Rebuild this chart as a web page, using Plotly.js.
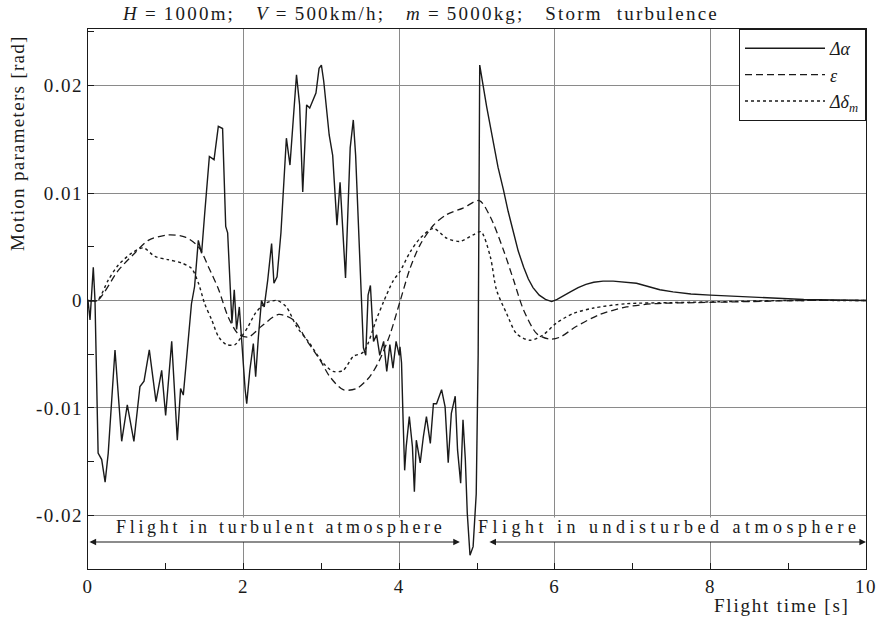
<!DOCTYPE html>
<html>
<head>
<meta charset="utf-8">
<script src="https://cdn.plot.ly/plotly-3.0.1.min.js"></script>
<style>
  html, body { margin: 0; padding: 0; background: #fff; }
  #chart { width: 886px; height: 618px; }
  .xtick text, .ytick text { letter-spacing: 1.5px; }
</style>
</head>
<body>
<div id="chart"></div>
<script>
// Flight time [s] and Δα [rad]
const tAlpha = [0, 0.026, 0.068, 0.09, 0.13, 0.176, 0.22, 0.26, 0.347, 0.433,
  0.505, 0.59, 0.668, 0.72, 0.788, 0.874, 0.947, 0.998, 1.076, 1.148,
  1.19, 1.225, 1.33, 1.355, 1.37, 1.418, 1.46, 1.5, 1.56, 1.62,
  1.675, 1.73, 1.77, 1.795, 1.825, 1.85, 1.88, 1.91, 1.945, 1.97,
  2.02, 2.04, 2.08, 2.125, 2.155, 2.19, 2.23, 2.265, 2.31, 2.36,
  2.39, 2.43, 2.48, 2.55, 2.596, 2.68, 2.72, 2.76, 2.81, 2.85,
  2.9, 2.93, 2.97, 3.0, 3.03, 3.1, 3.145, 3.175, 3.2, 3.24,
  3.28, 3.31, 3.37, 3.41, 3.44, 3.5, 3.54, 3.57, 3.6, 3.63,
  3.67, 3.71, 3.75, 3.8, 3.84, 3.88, 3.92, 3.96, 4.0, 4.01,
  4.03, 4.05, 4.07, 4.09, 4.13, 4.17, 4.195, 4.22, 4.25, 4.27,
  4.31, 4.35, 4.4, 4.44, 4.48, 4.545, 4.59, 4.63, 4.67, 4.72,
  4.75, 4.79, 4.82, 4.85, 4.875, 4.91, 4.95, 4.99, 5.015, 5.035,
  5.125, 5.21, 5.27, 5.34, 5.4, 5.47, 5.53, 5.6, 5.66, 5.72,
  5.8, 5.88, 5.96, 6.03, 6.11, 6.2, 6.3, 6.4, 6.5, 6.62,
  6.75, 6.9, 7.05, 7.2, 7.35, 7.52, 7.75, 8.0, 8.3, 8.55,
  9.2, 10];
const alpha = [0, -0.0018, 0.0031, 0, -0.0142, -0.0148, -0.0169, -0.0142, -0.0046, -0.0131,
  -0.0097, -0.0131, -0.0080, -0.0075, -0.0046, -0.0094, -0.0065, -0.0107, -0.0038, -0.0130,
  -0.0082, -0.0088, -0.0003, 0.0007, 0.0013, 0.0056, 0.0044, 0.0081, 0.0134, 0.0131,
  0.0162, 0.0160, 0.0069, 0.0063, 0.0019, -0.0021, 0.0010, -0.0027, -0.0006, -0.0034,
  -0.0083, -0.0096, -0.0065, -0.0040, -0.0071, -0.0034, 0.0000, -0.0006, 0.0019, 0.0053,
  0.0016, 0.0022, 0.0063, 0.0151, 0.0126, 0.0210, 0.0182, 0.0101, 0.0182, 0.0179,
  0.0188, 0.0193, 0.0216, 0.0219, 0.0204, 0.0154, 0.0135, 0.0104, 0.0070, 0.0110,
  0.0055, 0.0021, 0.0142, 0.0168, 0.0135, 0.0036, -0.0044, -0.0051, 0.0005, 0.0014,
  -0.0038, -0.0032, -0.0051, -0.0038, -0.0066, -0.0041, -0.0063, -0.0038, -0.0051, -0.0043,
  -0.0058, -0.0111, -0.0158, -0.0136, -0.0108, -0.0136, -0.0178, -0.0130, -0.0142, -0.0151,
  -0.0127, -0.0108, -0.0133, -0.0096, -0.0096, -0.0083, -0.0099, -0.0151, -0.0105, -0.0089,
  -0.0139, -0.0170, -0.0111, -0.0148, -0.0198, -0.0237, -0.0229, -0.0180, -0.0050, 0.0219,
  0.0180, 0.0146, 0.0124, 0.0103, 0.0083, 0.0063, 0.0046, 0.0031, 0.0020, 0.0012,
  0.0005, 0.0001, -0.0001, 0.0001, 0.0004, 0.0008, 0.0012, 0.0015, 0.0017, 0.0018,
  0.0018, 0.0017, 0.0016, 0.0013, 0.0010, 0.0008, 0.0006, 0.0005, 0.0004, 0.0003,
  0.0001, 0];

// ε [rad]
const tEps = [0, 0.12, 0.39, 0.6, 0.775, 1.03, 1.25, 1.42, 1.55, 1.68,
  1.8, 1.93, 2.06, 2.23, 2.45, 2.64, 2.81, 2.98, 3.11, 3.28,
  3.45, 3.62, 3.75, 3.88, 4.01, 4.14, 4.27, 4.44, 4.61, 4.82,
  5.03, 5.17, 5.34, 5.47, 5.6, 5.77, 5.94, 6.07, 6.28, 6.58,
  6.92, 7.27, 7.8, 8.5, 9.2, 10];
const eps = [0, 0, 0.0028, 0.0044, 0.0056, 0.0061, 0.0059, 0.0050, 0.0031, 0.0010,
  -0.0015, -0.0031, -0.0034, -0.0024, -0.0013, -0.0018, -0.0037, -0.0055, -0.0071, -0.0083,
  -0.0082, -0.0071, -0.0055, -0.0032, -0.0001, 0.0030, 0.0052, 0.0070, 0.0080, 0.0086,
  0.0093, 0.0078, 0.0047, 0.0019, -0.0009, -0.0031, -0.0036, -0.0034, -0.0024, -0.0013,
  -0.0006, -0.0003, -0.0002, -0.0001, 0, 0];

// Δδm [rad]
const tDm = [0, 0.12, 0.26, 0.39, 0.56, 0.71, 0.86, 1.03, 1.2, 1.33,
  1.42, 1.5, 1.59, 1.68, 1.78, 1.89, 1.97, 2.06, 2.15, 2.27,
  2.43, 2.55, 2.68, 2.85, 3.02, 3.15, 3.28, 3.41, 3.54, 3.71,
  3.8, 3.92, 4.01, 4.14, 4.27, 4.44, 4.61, 4.78, 4.95, 5.05,
  5.17, 5.25, 5.38, 5.51, 5.68, 5.85, 6.02, 6.24, 6.5, 6.92,
  7.5, 8.2, 9, 10];
const dm = [0, 0, 0.0019, 0.0033, 0.0044, 0.0049, 0.0041, 0.0038, 0.0035, 0.0030,
  0.0016, -0.0003, -0.0018, -0.0034, -0.0041, -0.0041, -0.0034, -0.0024, -0.0012, -0.0003,
  0, -0.0006, -0.0024, -0.0040, -0.0058, -0.0066, -0.0065, -0.0052, -0.0048, -0.0017,
  -0.0001, 0.0018, 0.0027, 0.0045, 0.0058, 0.0067, 0.0058, 0.0055, 0.0061, 0.0064,
  0.0041, 0.0010, -0.0012, -0.0031, -0.0037, -0.0032, -0.0021, -0.0012, -0.0007, -0.0003,
  -0.0002, -0.0001, 0, 0];

const seriesNames = ['<i>Δα</i>', '<i>ε</i>', '<i>Δδ<sub>m</sub></i>'];
const xTickVals = [0, 2, 4, 6, 8, 10];
const xTickText = ['0', '2', '4', '6', '8', '10'];
const yTickVals = [-0.02, -0.01, 0, 0.01, 0.02];
const yTickText = ['-0.02', '-0.01', '0', '0.01', '0.02'];
const phaseLabels = ['Flight in turbulent atmosphere', 'Flight in undisturbed atmosphere'];
const phaseCenters = [2.48, 7.47];
const phaseSpacing = [3.7, 4.5];
const phaseArrows = [[0, 4.78], [5.14, 10]];

const serif = '"Liberation Serif", serif';
const ink = '#1a1a1a';
const sp = (s, px) => '<span style="letter-spacing:' + px + 'px">' + s + '</span>';

const traces = [
  { x: tAlpha, y: alpha, name: seriesNames[0], mode: 'lines', type: 'scatter',
    line: { color: ink, width: 1.4 } },
  { x: tEps, y: eps, name: seriesNames[1], mode: 'lines', type: 'scatter',
    line: { color: ink, width: 1.3, dash: '7px,4px', shape: 'spline', smoothing: 0.8 } },
  { x: tDm, y: dm, name: seriesNames[2], mode: 'lines', type: 'scatter',
    line: { color: ink, width: 1.4, dash: 'dot', shape: 'spline', smoothing: 0.8 } }
];

const yBand = -0.0211, yArrow = -0.02247;
const titleText = '<i>H</i>\u2009=\u20091000m;\u00a0\u00a0\u00a0<i>V</i>\u2009=\u2009500km/h;\u00a0\u00a0\u00a0<i>m</i>\u2009=\u20095000kg;\u00a0\u00a0\u00a0Storm\u00a0\u00a0turbulence';
const annotations = [
  { xref: 'paper', yref: 'paper', x: 0.5, y: 1.028, xanchor: 'center', yanchor: 'middle',
    xshift: -57, text: sp(titleText, 2.2),
    showarrow: false, font: { family: serif, size: 19, color: ink } },
  { xref: 'paper', yref: 'paper', x: -0.09, y: 0.789, xanchor: 'center', yanchor: 'middle',
    text: sp('Motion parameters [rad]', 1.3), textangle: -90, showarrow: false,
    font: { family: serif, size: 19, color: ink } },
  { xref: 'paper', yref: 'paper', x: 0.892, y: -0.068, xanchor: 'center', yanchor: 'middle',
    text: sp('Flight time [s]', 1.8), showarrow: false, font: { family: serif, size: 19, color: ink } }
];
phaseLabels.forEach((lab, i) => {
  annotations.push({ x: phaseCenters[i], y: yBand, xref: 'x', yref: 'y', text: sp(lab, phaseSpacing[i]),
    showarrow: false, font: { family: serif, size: 18, color: ink } });
  annotations.push({ x: phaseArrows[i][1], y: yArrow, ax: phaseArrows[i][0], ay: yArrow,
    xref: 'x', yref: 'y', axref: 'x', ayref: 'y', text: '', showarrow: true,
    arrowhead: 2, arrowside: 'end+start', arrowsize: 1.2, arrowwidth: 1.1, arrowcolor: ink });
});

const layout = {
  width: 886, height: 618,
  margin: { l: 88, r: 20, t: 29, b: 49 },
  paper_bgcolor: '#ffffff', plot_bgcolor: '#ffffff',
  showlegend: true,
  legend: { x: 1, y: 1, xanchor: 'right', yanchor: 'top', bgcolor: '#ffffff',
    bordercolor: ink, borderwidth: 1, font: { family: serif, size: 18, color: ink },
    tracegroupgap: 0, itemwidth: 80 },
  xaxis: { range: [0, 10], tickmode: 'array', tickvals: xTickVals, ticktext: xTickText,
    showgrid: true, gridcolor: '#8a8a8a', gridwidth: 1, zeroline: false,
    showline: true, linecolor: ink, linewidth: 1.2, mirror: true,
    ticks: 'inside', ticklen: 6, tickcolor: ink,
    minor: { dtick: 1, tick0: 0, ticks: 'inside', ticklen: 6, tickcolor: ink, showgrid: false },
    tickfont: { family: serif, size: 19, color: ink } },
  yaxis: { range: [-0.02498, 0.02526], tickmode: 'array', tickvals: yTickVals, ticktext: yTickText,
    showgrid: true, gridcolor: '#8a8a8a', gridwidth: 1, zeroline: false,
    showline: true, linecolor: ink, linewidth: 1.2, mirror: true,
    ticks: 'inside', ticklen: 6, tickcolor: ink,
    minor: { dtick: 0.005, tick0: 0, ticks: 'inside', ticklen: 6, tickcolor: ink, showgrid: false },
    tickfont: { family: serif, size: 19, color: ink } },
  shapes: [
    { type: 'rect', xref: 'x', yref: 'y', x0: 0, x1: 10, y0: -0.0202, y1: yArrow,
      fillcolor: '#ffffff', line: { width: 0 }, layer: 'between' }
  ],
  annotations: annotations
};

Plotly.newPlot('chart', traces, layout, { displayModeBar: false, staticPlot: true });
</script>
</body>
</html>
